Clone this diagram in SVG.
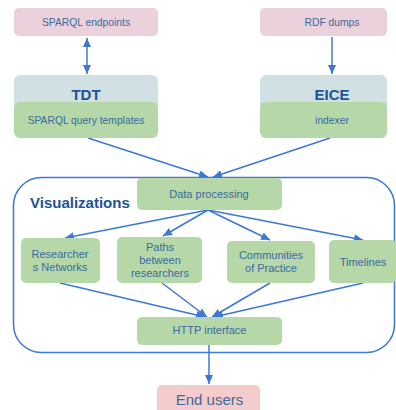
<svg xmlns="http://www.w3.org/2000/svg" width="396" height="410" viewBox="0 0 396 410">
<style>
text{font-family:"Liberation Sans",Arial,sans-serif;fill:#3a6aa0;text-anchor:middle}
.s{font-size:10.3px}
.m{font-size:11px}
.b{font-size:15px;font-weight:bold;fill:#1f5394}
.pink{fill:#ead1dc}
.green{fill:#b6d7a8}
.gray{fill:#d0e0e3}
.end{fill:#f4cccc}
.ln{stroke:#3c78d8;stroke-width:1.5;fill:none}
</style>
<defs>
<marker id="ah" markerUnits="userSpaceOnUse" markerWidth="10" markerHeight="10" viewBox="0 0 10 10" refX="9" refY="5" orient="auto-start-reverse">
<path d="M0,1 L9,5 L0,9 Z" fill="#3c78d8"/>
</marker>
</defs>
<g id="visualizations">
<rect x="13.5" y="177.5" width="381" height="175" rx="28" class="ln"/>
<text x="30" y="208" class="b" style="text-anchor:start">Visualizations</text>
</g>
<g id="connectors">
<line x1="87" y1="38" x2="87" y2="74" class="ln" marker-start="url(#ah)" marker-end="url(#ah)"/>
<line x1="332" y1="37" x2="332" y2="74" class="ln" marker-end="url(#ah)"/>
<line x1="88" y1="138" x2="208" y2="177" class="ln" marker-end="url(#ah)"/>
<line x1="330" y1="138" x2="213" y2="177" class="ln" marker-end="url(#ah)"/>
<line x1="208" y1="210" x2="65" y2="238" class="ln" marker-end="url(#ah)"/>
<line x1="208" y1="210" x2="163" y2="236" class="ln" marker-end="url(#ah)"/>
<line x1="208" y1="210" x2="270" y2="240" class="ln" marker-end="url(#ah)"/>
<line x1="208" y1="210" x2="363" y2="240" class="ln" marker-end="url(#ah)"/>
<line x1="60" y1="283" x2="205" y2="317" class="ln" marker-end="url(#ah)"/>
<line x1="162" y1="283" x2="207" y2="317" class="ln" marker-end="url(#ah)"/>
<line x1="270" y1="283" x2="212" y2="317" class="ln" marker-end="url(#ah)"/>
<line x1="363" y1="283" x2="214" y2="317" class="ln" marker-end="url(#ah)"/>
<line x1="209" y1="345" x2="209" y2="384" class="ln" marker-end="url(#ah)"/>
</g>
<g id="sparql-endpoints">
<rect x="14" y="8" width="144" height="28" rx="5" class="pink"/>
<text x="86" y="26" class="s">SPARQL endpoints</text>
</g>
<g id="rdf-dumps">
<rect x="260" y="8" width="127" height="28" rx="5" class="pink"/>
<text x="332" y="26" class="s">RDF dumps</text>
</g>
<g id="tdt">
<rect x="14" y="75" width="144" height="63" rx="6" class="gray"/>
<text x="86" y="100" class="b">TDT</text>
<rect x="14" y="102" width="144" height="36" rx="6" class="green"/>
<text x="86" y="124" class="s">SPARQL query templates</text>
</g>
<g id="eice">
<rect x="260" y="75" width="127" height="63" rx="6" class="gray"/>
<text x="332" y="100" class="b">EICE</text>
<rect x="260" y="102" width="127" height="36" rx="6" class="green"/>
<text x="332" y="124" class="s">indexer</text>
</g>
<g id="data-processing">
<rect x="137" y="178" width="145" height="32" rx="5" class="green"/>
<text x="209" y="198" class="m">Data processing</text>
</g>
<g id="researchers-networks">
<rect x="21" y="238" width="79" height="45" rx="5" class="green"/>
<text x="60" y="258" class="m">Researcher</text>
<text x="60" y="271" class="m">s Networks</text>
</g>
<g id="paths">
<rect x="117" y="237" width="85" height="46" rx="5" class="green"/>
<text x="160" y="251" class="m">Paths</text>
<text x="160" y="264" class="m">between</text>
<text x="160" y="277" class="m">researchers</text>
</g>
<g id="communities">
<rect x="227" y="241" width="88" height="42" rx="5" class="green"/>
<text x="271" y="259" class="m">Communities</text>
<text x="271" y="272" class="m">of Practice</text>
</g>
<g id="timelines">
<rect x="329" y="240" width="67" height="43" rx="5" class="green"/>
<text x="363" y="266" class="m">Timelines</text>
</g>
<g id="http-interface">
<rect x="137" y="317" width="145" height="28" rx="5" class="green"/>
<text x="209.5" y="334" class="m">HTTP interface</text>
</g>
<g id="end-users">
<rect x="157" y="385" width="103" height="32" rx="5" class="end"/>
<text x="209.5" y="405" style="font-size:15px">End users</text>
</g>
</svg>
